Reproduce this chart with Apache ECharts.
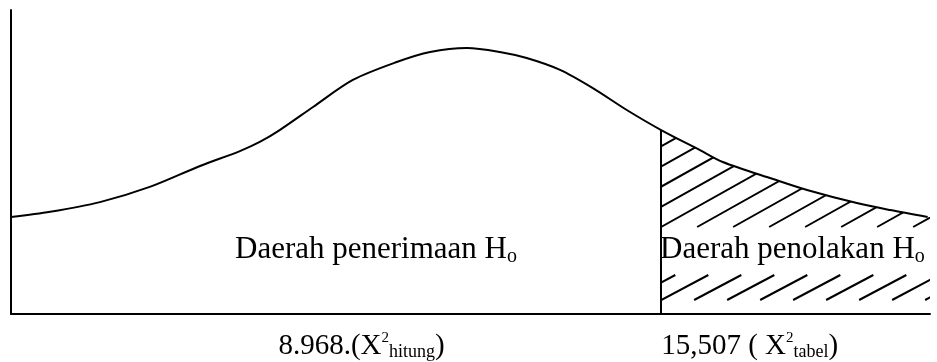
<!DOCTYPE html>
<html>
<head>
<meta charset="utf-8">
<title>Daerah penerimaan dan penolakan Ho</title>
<script src="https://cdn.jsdelivr.net/npm/echarts@6/dist/echarts.min.js"></script>
<style>
    html, body { margin: 0; padding: 0; background: #fff; }
    #chart { width: 937px; height: 362px; }
</style>
</head>
<body>
<div id="chart"></div>
<script>
// curve (x along the chi-square axis, y = relative height)
var curveX = [4.4, 5.07, 5.92, 6.77, 7.63, 8.31, 8.65, 8.99, 9.56, 10.24, 10.99, 11.56, 12.19, 12.75,
    13.21, 13.78, 14.34, 14.92, 15.507, 16.17, 16.56, 17.42, 18.0, 18.85, 19.42, 20.06];
var curveY = [31.9, 33.6, 36.8, 41.8, 48.7, 53.6, 56.6, 60.5, 68.1, 77.0, 82.9, 86.2, 87.5, 86.2,
    84.2, 80.3, 74.3, 67.1, 60.5, 53.9, 50.0, 44.4, 40.8, 36.5, 34.2, 31.9];

var tickValues = [8.968, 15.507];
var tickMain = ['8.968.(X', '15,507 ( X'];
var tickSub = ['hitung', 'tabel'];
var regionNames = ['Daerah penerimaan H', 'Daerah penolakan H'];

var xMin = 4.4, xMax = 20.1;
var critValue = tickValues[1];
var critY = curveY[curveX.indexOf(critValue)];

var serif = 'Liberation Serif';

var myChart = echarts.init(document.getElementById('chart'));

// hatch of the rejection region, clipped to the area under the curve
function renderHatch(params, api) {
    var pts = [api.coord([critValue, 0])];
    for (var i = 0; i < curveX.length; i++) {
        if (curveX[i] >= critValue) pts.push(api.coord([curveX[i], curveY[i]]));
    }
    var end = api.coord([xMax, 0]);
    pts.push([end[0], pts[pts.length - 1][1]]);
    pts.push(end);

    var x0 = pts[0][0], base = pts[0][1];
    var slope = 0.53;
    var lowBot = base - 14, lowTop = base - 39, upBot = base - 87;
    var st = { stroke: '#000', lineWidth: 2 };
    var lines = [];
    for (var k = -8; k < 10; k++) {
        var xa = x0 + k * 33;
        lines.push({ type: 'line', shape: { x1: xa, y1: lowBot, x2: xa + (lowBot - lowTop) / slope, y2: lowTop }, style: st });
        var xb = x0 + 36 + k * 36;
        lines.push({ type: 'line', shape: { x1: xb, y1: upBot, x2: xb + 200 / 0.56, y2: upBot - 200 }, style: st });
    }
    return {
        type: 'group',
        clipPath: { type: 'polygon', shape: { points: pts } },
        children: lines
    };
}

var richLabel = {
    m: { fontFamily: serif, fontSize: 29, lineHeight: 30, color: '#000' },
    sup: { fontFamily: serif, fontSize: 15, lineHeight: 15, verticalAlign: 'top', color: '#000' },
    sub: { fontFamily: serif, fontSize: 18, lineHeight: 18, verticalAlign: 'bottom', color: '#000' }
};

var regionRich = {
    m: { fontFamily: serif, fontSize: 31, lineHeight: 34, fill: '#000' },
    s: { fontFamily: serif, fontSize: 20, lineHeight: 20, verticalAlign: 'bottom', fill: '#000' }
};

var option = {
    animation: false,
    backgroundColor: '#fff',
    grid: { left: 11, right: 7, top: 10, bottom: 48, outerBoundsMode: 'none' },
    xAxis: {
        type: 'value',
        min: xMin,
        max: xMax,
        splitLine: { show: false },
        axisTick: { show: false },
        axisLine: { show: true, lineStyle: { color: '#000', width: 2 } },
        axisLabel: {
            customValues: tickValues,
            margin: 17,
            align: 'left',
            formatter: function (v) {
                var i = tickValues.indexOf(v);
                if (i < 0) return '';
                return '{m|' + tickMain[i] + '}{sup|2}{sub|' + tickSub[i] + '}{m|)}';
            },
            rich: richLabel
        }
    },
    yAxis: {
        type: 'value',
        min: 0,
        max: 100,
        splitLine: { show: false },
        axisTick: { show: false },
        axisLabel: { show: false },
        axisLine: { show: true, lineStyle: { color: '#000', width: 2 } }
    },
    graphic: [
        {
            type: 'text', x: 235, y: 250,
            style: { text: '{m|' + regionNames[0] + '}{s|o}', rich: regionRich, verticalAlign: 'middle', align: 'left' }
        },
        {
            type: 'text', x: 660, y: 250,
            style: { text: '{m|' + regionNames[1] + '}{s|o}', rich: regionRich, verticalAlign: 'middle', align: 'left' }
        }
    ],
    series: [
        {
            type: 'line',
            data: curveX.map(function (x, i) { return [x, curveY[i]]; }),
            smooth: 0.3,
            showSymbol: false,
            lineStyle: { color: '#000', width: 2 },
            markLine: {
                silent: true,
                symbol: 'none',
                label: { show: false },
                lineStyle: { color: '#000', width: 2, type: 'solid' },
                data: [[{ coord: [critValue, 0] }, { coord: [critValue, critY] }]]
            }
        },
        {
            type: 'custom',
            data: [[critValue, 0]],
            renderItem: renderHatch,
            silent: true
        }
    ]
};

myChart.setOption(option);
</script>
</body>
</html>
